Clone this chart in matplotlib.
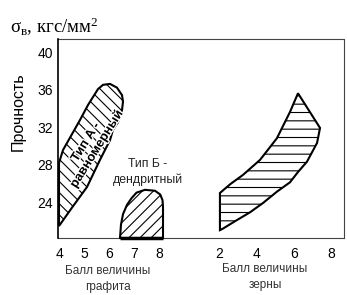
import matplotlib
matplotlib.use("Agg")
import matplotlib.pyplot as plt
import matplotlib.patheffects as pe

plt.rcParams['font.family'] = ['Liberation Sans', 'DejaVu Sans']
plt.rcParams['hatch.linewidth'] = 0.8
plt.rcParams['hatch.color'] = 'black'
plt.rcParams['mathtext.fontset'] = 'custom'
plt.rcParams['mathtext.rm'] = 'Liberation Serif'
plt.rcParams['mathtext.it'] = 'Liberation Serif:italic'

# ---- data ----
graphite_ticks = [4, 5, 6, 7, 8]
grain_ticks = [2, 4, 6, 8]

# Type A (uniform graphite) region: graphite score vs strength
typeA_x = [4.0, 4.0, 4.16, 4.32, 4.84, 5.16, 5.36, 5.56, 5.76, 6.04, 6.32, 6.52,
           6.56, 6.52, 6.36, 6.16, 6.04, 5.64, 5.12, 4.52, 4.0]
typeA_y = [21.44, 28.16, 29.55, 30.3, 32.75, 34.35, 35.2, 36.05, 36.5, 36.6, 36.2, 35.4,
           34.7, 33.8, 32.5, 31.7, 30.6, 28.5, 25.6, 23.4, 21.44]

# Type B (dendritic graphite) region
typeB_x = [6.44, 6.48, 6.56, 6.72, 6.9, 7.1, 7.44, 7.84, 8.05, 8.14, 8.16, 8.16]
typeB_y = [20.16, 21.6, 22.7, 23.7, 24.4, 25.0, 25.3, 25.2, 24.8, 24.2, 23.5, 20.16]

# Grain size region: grain score vs strength
grain_x = [2.05, 2.05, 2.6, 3.29, 4.2, 5.1, 5.8, 6.23, 7.41, 7.25, 6.71, 6.23, 5.8, 5.1,
           4.36, 3.66, 2.9, 2.16, 2.05]
grain_y = [21.0, 24.96, 25.9, 26.9, 28.5, 30.8, 33.6, 35.6, 31.9, 30.3, 28.3, 27.2, 26.1,
           25.1, 23.9, 22.9, 22.0, 21.1, 21.0]

y_ticks = [24, 28, 32, 36, 40]

# grain axis placed to the right of graphite axis on same x scale
GRAIN_OFFSET = 10.4
GRAIN_SCALE = 0.747


def gpos(z):
    return [GRAIN_OFFSET + (v - 2) * GRAIN_SCALE for v in z]


W, H = 347, 295
fig = plt.figure(figsize=(W / 100, H / 100), dpi=100)
ax = fig.add_axes([58 / W, (H - 238) / H, (344 - 58) / W, (238 - 39) / H])
ax.set_xlim(3.96, 3.96 + 286 / 25)
ax.set_ylim(20.16, 41.39)

ax.fill(typeA_x, typeA_y, facecolor='white', edgecolor='black', lw=1.5,
        hatch='\\\\\\', clip_on=False, zorder=3)
ax.fill(typeB_x, typeB_y, facecolor='white', edgecolor='black', lw=1.5,
        hatch='///', clip_on=False, zorder=3)
ax.fill(gpos(grain_x), grain_y, facecolor='white', edgecolor='black', lw=1.5,
        hatch='--', clip_on=False, zorder=3)

# thick bottom of type B
ax.plot([typeB_x[0], typeB_x[-1]], [typeB_y[0], typeB_y[-1]], color='black', lw=2.5,
        clip_on=False, zorder=4, solid_capstyle='butt')

xt = list(graphite_ticks) + gpos(grain_ticks)
xl = [str(v) for v in graphite_ticks] + [str(v) for v in grain_ticks]
ax.set_xticks(xt)
ax.set_xticklabels(xl, fontsize=10)
ax.set_yticks(y_ticks)
ax.set_yticklabels([str(v) for v in y_ticks], fontsize=10)
ax.tick_params(length=0, pad=6.5, axis='x')
ax.tick_params(length=0, pad=3.5, axis='y')

for s in ['top', 'right', 'bottom']:
    ax.spines[s].set_linestyle((0, (1, 1)))
    ax.spines[s].set_linewidth(0.8)
    ax.spines[s].set_color('#444444')
ax.spines['left'].set_linewidth(1.2)
ax.spines['left'].set_color('black')
ax.spines['left'].set_zorder(5)

# region texts
ax.text(5.3, 30.0, 'Тип А -\nравномерный', rotation=58, ha='center', va='center',
        fontsize=9.2, fontweight='bold', linespacing=1.05, zorder=6,
        path_effects=[pe.withStroke(linewidth=2, foreground='white')])
ax.text(7.55, 27.2, 'Тип Б -\nдендритный', ha='center', va='center', fontsize=8.8,
        linespacing=1.3, color='#222222')

fig.text(18 / W, 1 - 112 / H, 'Прочность', rotation=90, ha='center', va='center',
         fontsize=11.5)
fig.text(10 / W, 1 - 27 / H, r'$\mathrm{\sigma_{в}}$, кгс/мм$^{\mathrm{2}}$', ha='left',
         va='center', fontsize=13.5, family='Liberation Serif')

fig.text(108 / W, 1 - 279 / H, 'Балл величины\nграфита', ha='center', va='center',
         fontsize=8.5, linespacing=1.5, color='#333333')
fig.text(265 / W, 1 - 277 / H, 'Балл величины\nзерны', ha='center', va='center',
         fontsize=8.5, linespacing=1.5, color='#333333')

fig.savefig('out.png', dpi=100)
